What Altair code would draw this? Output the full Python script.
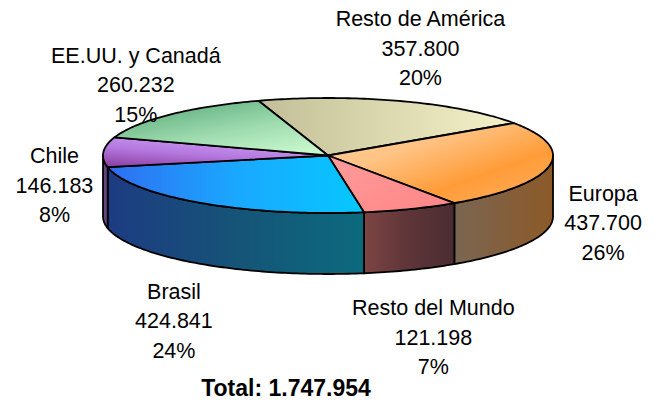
import math
import pandas as pd
import altair as alt

# ---- data (clockwise from the top) ----
names = ["Resto de América", "Europa", "Resto del Mundo", "Brasil", "Chile", "EE.UU. y Canadá"]
values = [357800, 437700, 121198, 424841, 146183, 260232]
percents = [20, 26, 7, 24, 8, 15]

# ---- styling ----
top_grads = [
    (["#c2bf98", "#dcd9b0", "#f4f2c8"], (0, 0.5, 1, 0.5)),
    (["#ffd4a6", "#ffc384", "#ff9c38", "#ffb062"], (0, 0, 1, 1)),
    (["#ff9c9c", "#ff8585"], (0, 0, 1, 1)),
    (["#2f6ef0", "#1aa8ff", "#05c8ff"], (0, 0.5, 1, 0.5)),
    (["#8a3c9e", "#b478de", "#cf9ff6"], (0, 1, 0.6, 0)),
    (["#6cb787", "#9fdcb0", "#c8f7cc"], (0.2, 0.2, 0.8, 1)),
]
wall_grads = [
    None,
    (["#7a6652", "#835f3c", "#8c5a28"], (0, 0.5, 1, 0.5)),
    (["#7d4444", "#5e3538", "#4a2c30"], (0, 0.5, 1, 0.5)),
    (["#1d3b82", "#155477", "#0c6a7e"], (0, 0.5, 1, 0.5)),
    (["#5e3f78", "#6c4c88"], (0, 0.5, 1, 0.5)),
    None,
]

W, H = 639, 393
cx, cy, a, b, depth = 320.0, 147.5, 225.0, 57.5, 61.0
start_angle = 108.0
lab_cx, lab_cy, lab_A, lab_B = cx + 3, cy + 40, 277.0, 154.0
line_h = 29.5

total = sum(values)


def pt(t, dz=0.0):
    r = math.radians(t)
    return cx + a * math.cos(r), cy - b * math.sin(r) + dz


def arc(t0, t1):
    n = max(2, int(abs(t0 - t1) / 1.0) + 1)
    return [t0 + (t1 - t0) * k / (n - 1) for k in range(n)]


rows = []
labels = []
ang = start_angle
for j, (name, v, p) in enumerate(zip(names, values, percents)):
    sweep = 360.0 * v / total
    t0, t1 = ang, ang - sweep
    ang = t1
    # top face
    pts = [(cx, cy)] + [pt(t) for t in arc(t0, t1)]
    for i, (x, y) in enumerate(pts):
        rows.append({"k": f"top{j}", "i": i, "x": x, "y": y})
    # front wall
    lo, hi = max(t1, -180.0), min(t0, 0.0)
    if hi > lo:
        wp = [pt(t) for t in arc(hi, lo)] + [pt(t, depth) for t in arc(lo, hi)]
        for i, (x, y) in enumerate(wp):
            rows.append({"k": f"wall{j}", "i": i, "x": x, "y": y})
    mid = math.radians((t0 + t1) / 2)
    labels.append({
        "x": lab_cx + lab_A * math.cos(mid),
        "y": lab_cy - lab_B * math.sin(mid),
        "text": f"{name}\n{v:,}".replace(",", ".") + f"\n{p}%",
    })

df = pd.DataFrame(rows)
ldf = pd.DataFrame(labels)
tdf = pd.DataFrame([{"x": cx - 42, "y": 381, "text": "Total: " + f"{total:,}".replace(",", ".")}])

xs = alt.X("x:Q", scale=alt.Scale(domain=[0, W]), axis=None)
ys = alt.Y("y:Q", scale=alt.Scale(domain=[0, H], reverse=True), axis=None)


def grad(spec):
    cols, (x1, y1, x2, y2) = spec
    n = len(cols)
    return alt.LinearGradient(
        gradient="linear",
        stops=[alt.GradientStop(color=c, offset=k / (n - 1)) for k, c in enumerate(cols)],
        x1=x1, y1=y1, x2=x2, y2=y2,
    )


layers = []
for part, specs in (("wall", wall_grads), ("top", top_grads)):
    for j, spec in enumerate(specs):
        key = f"{part}{j}"
        if spec is None or key not in set(df["k"]):
            continue
        layers.append(
            alt.Chart(df)
            .transform_filter(alt.FieldEqualPredicate(field="k", equal=key))
            .mark_line(fill=grad(spec), stroke="black", strokeWidth=1.8,
                       interpolate="linear-closed", strokeJoin="round")
            .encode(x=xs, y=ys, order=alt.Order("i:Q"))
        )

label_layer = alt.Chart(ldf).mark_text(
    font="Liberation Sans", fontSize=21.5, lineBreak="\n", lineHeight=line_h,
    align="center", baseline="middle", color="black", dy=-line_h,
).encode(x=xs, y=ys, text="text:N")

total_layer = alt.Chart(tdf).mark_text(
    font="Liberation Sans", fontSize=23, fontWeight="bold",
    align="center", baseline="middle", color="black",
).encode(x=xs, y=ys, text="text:N")

chart = alt.layer(*layers, label_layer, total_layer).properties(
    width=W, height=H, autosize="none", padding=0
).configure_view(strokeWidth=0)

chart.save("out.html", embed_options={"renderer": "svg", "actions": False})
